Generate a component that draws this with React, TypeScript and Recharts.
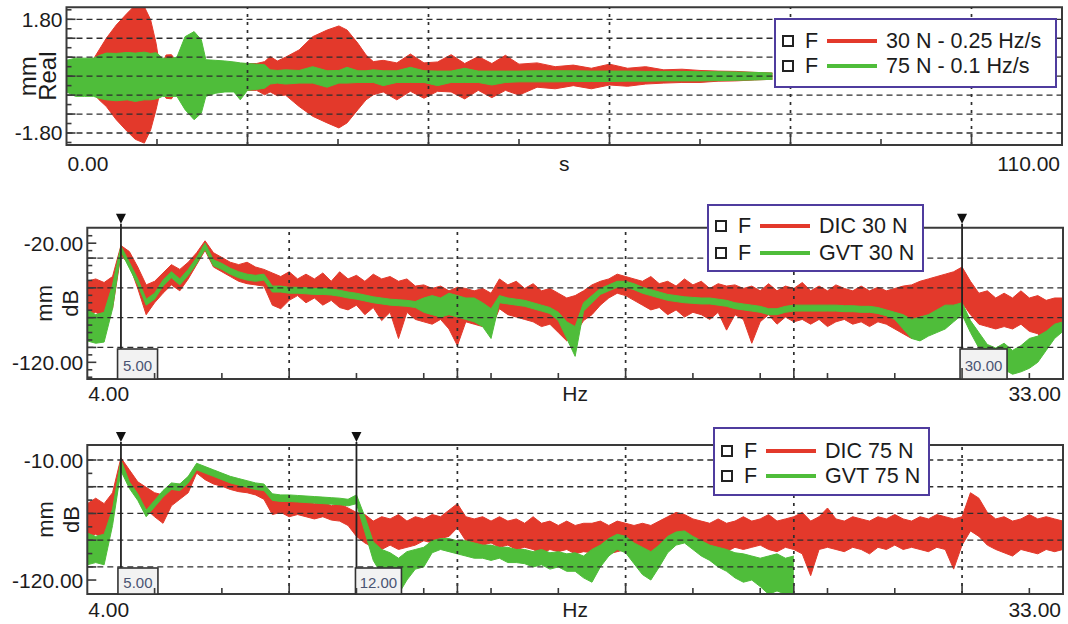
import React from "react";
import {
  ComposedChart,
  Area,
  XAxis,
  YAxis,
  ReferenceLine,
  ReferenceArea,
  Legend,
} from "recharts";

const RED = "#e3392b";
const GREEN = "#4fbd3a";
const INK = "#1c1c1c";
const FRAME = "#3a3a3a";
const BOX = "#4f3c9e";
const FONT = "'Liberation Sans', Arial, Helvetica, sans-serif";

// top panel: time histories, s -> mm (envelopes of the sweeps)
const timeS = [
  0, 1, 2, 3, 3.6, 4.4, 5.5, 6.7, 7.6, 8.6, 9.3, 9.9, 10.3, 10.6, 11, 11.6, 12.2, 13.1, 14.1, 14.9, 15.4,
  16.5, 17.5, 18.5, 19.2, 20, 21, 21.9, 22.5, 23.3, 24.2, 25.7, 27.2, 28.8, 30.1, 31, 32.2, 33.1, 33.9,
  35, 36.5, 38, 39.5, 41, 42.5, 44, 45.5, 47, 48.5, 50, 52, 54, 56, 58, 60, 62, 64, 66, 68, 70, 72, 74, 76, 78,
];
const sweep30Hi = [
  0.45, 0.48, 0.5, 0.55, 0.83, 1.2, 1.62, 1.99, 2.25, 2.2, 1.78, 1.04, 0.3, 0.4, 0.67, 0.68, 0.45, 0.45, 0.45, 0.45, 0.45,
  0.45, 0.42, 0.42, 0.4, 0.4, 0.4, 0.46, 0.62, 0.48, 0.6, 0.83, 1.25, 1.46, 1.59, 1.46, 1.04, 0.67, 0.46,
  0.5, 0.42, 0.7, 0.42, 0.45, 0.68, 0.4, 0.62, 0.4, 0.66, 0.38, 0.42, 0.3, 0.35, 0.25, 0.38, 0.25, 0.3, 0.2, 0.22, 0.18, 0.16, 0.15, 0.12, 0.1,
];
const sweep30Lo = [
  -0.45, -0.5, -0.5, -0.55, -0.75, -0.96, -1.38, -1.75, -2.0, -2.12, -1.7, -1.06, -0.54, -0.5, -0.7, -0.72, -0.45, -0.45, -0.45, -0.45, -0.45,
  -0.45, -0.45, -0.45, -0.45, -0.45, -0.45, -0.59, -0.5, -0.62, -0.6, -0.96, -1.27, -1.48, -1.64, -1.48, -1.06, -0.75, -0.59,
  -0.5, -0.75, -0.48, -0.7, -0.48, -0.5, -0.72, -0.45, -0.68, -0.45, -0.6, -0.35, -0.4, -0.3, -0.4, -0.28, -0.32, -0.25, -0.22, -0.2, -0.2, -0.16, -0.15, -0.12, -0.1,
];
const sweep75Hi = [
  0.5, 0.57, 0.57, 0.57, 0.65, 0.73, 0.72, 0.75, 0.73, 0.76, 0.72, 0.74, 0.65, 0.57, 0.57, 0.57, 0.6, 1.25, 1.41, 1.15, 0.52,
  0.5, 0.48, 0.45, 0.42, 0.4, 0.38, 0.36, 0.2, 0.18, 0.2, 0.18, 0.3, 0.17, 0.18, 0.28, 0.17, 0.17, 0.2,
  0.17, 0.17, 0.28, 0.17, 0.16, 0.16, 0.25, 0.16, 0.16, 0.16, 0.16, 0.17, 0.17, 0.17, 0.16, 0.16, 0.16, 0.15, 0.15, 0.15, 0.14, 0.14, 0.13, 0.12, 0.1,
];
const sweep75Lo = [
  -0.5, -0.64, -0.64, -0.64, -0.7, -0.75, -0.78, -0.75, -0.8, -0.75, -0.75, -0.72, -0.68, -0.64, -0.64, -0.64, -0.64, -1.06, -1.38, -1.17, -0.64,
  -0.54, -0.5, -0.5, -0.75, -0.45, -0.42, -0.38, -0.25, -0.22, -0.25, -0.22, -0.22, -0.35, -0.22, -0.22, -0.2, -0.2, -0.2,
  -0.3, -0.2, -0.2, -0.2, -0.3, -0.2, -0.2, -0.2, -0.28, -0.2, -0.18, -0.18, -0.18, -0.17, -0.17, -0.17, -0.16, -0.16, -0.15, -0.15, -0.15, -0.14, -0.13, -0.12, -0.1,
];

// frequency lines shared by both FRF panels (Hz)
const freqHz = [
  4, 4.25, 4.5, 4.75, 5, 5.25, 5.5, 5.75, 6, 6.25, 6.5, 6.75, 7, 7.25, 7.5, 7.75,
  8, 8.25, 8.5, 8.75, 9, 9.25, 9.5, 9.75, 10, 10.25, 10.5, 10.75, 11, 11.25, 11.5, 11.75,
  12, 12.25, 12.5, 12.75, 13, 13.25, 13.5, 13.75, 14, 14.25, 14.5, 14.75, 15, 15.25, 15.5, 15.75,
  16, 16.25, 16.5, 16.75, 17, 17.25, 17.5, 17.75, 18, 18.25, 18.5, 18.75, 19, 19.25, 19.5, 19.75,
  20, 20.25, 20.5, 20.75, 21, 21.25, 21.5, 21.75, 22, 22.25, 22.5, 22.75, 23, 23.25, 23.5, 23.75,
  24, 24.25, 24.5, 24.75, 25, 25.25, 25.5, 25.75, 26, 26.25, 26.5, 26.75, 27, 27.25, 27.5, 27.75,
  28, 28.25, 28.5, 28.75, 29, 29.25, 29.5, 29.75, 30, 30.25, 30.5, 30.75, 31, 31.25, 31.5, 31.75,
  32, 32.25, 32.5, 32.75, 33,
];

// middle panel: 30 N, dB
const dic30Hi = [
  -52, -50, -53, -48, -22, -27, -40, -55, -52, -45, -38, -42, -36, -28, -18, -28,
  -32, -36, -38, -36, -40, -42, -45, -48, -44, -50, -46, -50, -45, -52, -44, -50,
  -47, -52, -46, -50, -48, -52, -50, -56, -55, -58, -56, -60, -57, -58, -60, -58,
  -62, -50, -55, -52, -58, -54, -60, -58, -62, -66, -64, -60, -55, -52, -50, -46,
  -48, -50, -52, -48, -54, -52, -56, -50, -55, -52, -58, -54, -56, -55, -58, -56,
  -60, -54, -60, -56, -58, -53, -60, -56, -60, -55, -58, -60, -56, -60, -57, -60,
  -58, -56, -55, -52, -50, -48, -46, -44, -40, -52, -62, -60, -66, -62, -66, -60,
  -66, -64, -68, -66, -66,
];
const dic30Lo = [
  -80, -78, -82, -75, -30, -38, -58, -80, -70, -62, -55, -60, -50, -38, -26, -40,
  -44, -48, -52, -54, -55, -56, -72, -75, -68, -64, -70, -66, -72, -68, -74, -76,
  -72, -80, -74, -85, -78, -100, -78, -84, -86, -88, -84, -92, -106, -86, -88, -90,
  -92, -75, -80, -82, -84, -86, -90, -88, -95, -102, -96, -85, -80, -72, -66, -62,
  -64, -68, -72, -76, -74, -80, -76, -82, -78, -80, -84, -78, -93, -80, -84, -104,
  -86, -80, -88, -82, -86, -84, -88, -84, -90, -86, -84, -88, -86, -90, -86, -88,
  -92, -96, -100, -96, -92, -88, -86, -84, -70, -80, -88, -90, -92, -90, -92, -88,
  -94, -96, -104, -92, -90,
];
const gvt30Hi = [
  -76, -80, -78, -55, -22.5, -36, -50, -67, -62, -51, -44, -50, -42, -32, -20, -34,
  -37, -41, -44, -46, -47, -46, -56, -56, -57, -57, -57.5, -58, -58, -58.5, -59.5, -61,
  -62, -63.5, -65, -66, -67, -67.5, -68, -69, -66, -64, -66, -62, -64, -66, -66, -70,
  -75, -64, -66, -67, -68, -70, -72, -74, -78, -86, -90, -70, -64, -58, -55, -52,
  -52, -54, -57, -59, -61, -63, -64, -65, -65.5, -66, -66, -67, -68, -70, -71, -72,
  -73, -75, -75, -73, -72, -72, -72, -72, -72, -72, -72.5, -72.5, -73, -73, -74, -76,
  -78, -80, -84, -82, -80, -76, -72, -72, -70, -85, -95, -105, -108, -104, -110, -106,
  -100, -98, -94, -88, -86,
];
const gvt30Lo = [
  -102, -104, -103, -75, -27, -41, -55, -72, -67, -56, -49, -55, -47, -37, -25, -39,
  -42, -46, -49, -51, -52, -51, -61, -61, -62, -62, -62.5, -63, -63, -63.5, -64.5, -66,
  -67, -68.5, -70, -71, -72, -72.5, -73, -74, -78, -80, -82, -80, -82, -84, -86, -90,
  -100, -70, -71, -72, -73, -75, -77, -79, -85, -100, -115, -77, -70, -63, -60, -57,
  -57, -59, -62, -64, -66, -68, -69, -70, -70.5, -71, -71, -72, -73, -75, -76, -77,
  -78, -80, -80, -78, -77, -77, -77, -77, -77, -77, -77.5, -77.5, -78, -78, -79, -81,
  -84, -92, -100, -102, -98, -95, -92, -86, -80, -95, -108, -122, -128, -126, -130, -128,
  -125, -120, -110, -100, -94,
];

// bottom panel: 75 N, dB (GVT trace stops at 25 Hz)
const dic75Hi = [
  -50, -45, -50, -40, -8, -19, -30, -35, -40, -42, -34, -32, -26, -15, -20, -24,
  -26, -28, -30, -32, -34, -36, -44, -46, -45, -48, -46, -50, -48, -52, -50, -54,
  -58, -60, -66, -62, -64, -60, -66, -62, -64, -60, -62, -56, -50, -62, -64, -62,
  -66, -62, -66, -64, -68, -62, -68, -66, -70, -66, -70, -68, -68, -66, -70, -66,
  -68, -70, -68, -70, -66, -62, -58, -60, -64, -66, -68, -64, -68, -66, -62, -66,
  -64, -60, -66, -64, -62, -58, -66, -62, -54, -64, -66, -62, -64, -66, -62, -64,
  -60, -64, -66, -62, -64, -60, -62, -64, -62, -40, -45, -58, -64, -62, -66, -64,
  -60, -64, -62, -64, -66,
];
const dic75Lo = [
  -80, -78, -82, -62, -18, -34, -45, -55, -62, -68, -52, -46, -40, -22, -28, -32,
  -34, -37, -39, -40, -42, -46, -60, -58, -62, -60, -62, -64, -62, -65, -66, -70,
  -80, -86, -90, -92, -88, -92, -90, -88, -84, -86, -82, -80, -72, -84, -86, -88,
  -86, -90, -88, -92, -90, -92, -96, -92, -94, -92, -96, -94, -95, -92, -96, -94,
  -92, -96, -97, -100, -94, -86, -82, -84, -88, -92, -90, -92, -94, -90, -92, -90,
  -88, -92, -94, -90, -92, -96, -116, -92, -90, -92, -94, -90, -92, -96, -90, -92,
  -88, -92, -90, -92, -94, -90, -92, -110, -88, -75, -80, -88, -92, -95, -98, -92,
  -94, -96, -92, -94, -92,
];
const gvt75Hi = [
  -77, -80, -78, -55, -10, -30, -41, -56, -47, -38, -31, -32, -25, -13, -16, -19,
  -22, -25, -27, -29, -31, -32, -41, -42, -42, -42.5, -43, -43.5, -44, -44.5, -45, -46,
  -42, -62, -85, -92, -95, -100, -94, -92, -90, -84, -82, -82, -84, -84, -86, -88,
  -88, -90, -90, -92, -92, -94, -92, -95, -94, -96, -95, -98, -92, -88, -82, -78,
  -80, -86, -90, -94, -88, -80, -76, -75, -80, -84, -88, -90, -92, -95, -96, -98,
  -100, -98, -96, -100, -98,
];
const gvt75Lo = [
  -106, -104, -106, -70, -20, -36, -47, -62, -53, -44, -37, -38, -31, -19, -22, -25,
  -28, -31, -33, -35, -37, -38, -47, -48, -48, -48.5, -49, -49.5, -50, -50.5, -51, -52,
  -50, -76, -102, -115, -125, -133, -120, -110, -108, -95, -92, -94, -96, -98, -100, -100,
  -102, -100, -104, -104, -105, -108, -106, -110, -108, -112, -112, -118, -122, -108, -98, -92,
  -95, -105, -115, -120, -108, -95, -88, -86, -92, -98, -102, -108, -112, -118, -122, -120,
  -126, -133, -130, -133, -133,
];

const band = (xs: number[], lo: number[], hi: number[]) =>
  hi.map((h, i) => ({ x: xs[i], v: [lo[i], h] }));

const hzTicks = [4, 6, 8, 10, 12, 14, 15, 16, 18, 20, 22, 24, 25, 26, 28, 30, 32, 33];
const hzMajor = [10, 15, 20, 25, 30];

const XTick = (props: any) => {
  const { x, y, payload, ends, major, half } = props;
  const v = payload.value;
  const atStart = v === ends[0];
  const atEnd = v === ends[1];
  if (atStart || atEnd) {
    return (
      <text
        x={atStart ? x + 1 : x - 2}
        y={y + half}
        textAnchor={atStart ? "start" : "end"}
        dominantBaseline="central"
        fontFamily={FONT}
        fontSize={21}
        fill={INK}
      >
        {v.toFixed(2)}
      </text>
    );
  }
  const len = major.includes(v) ? 11 : 6;
  return <line x1={x} y1={y} x2={x} y2={y - len} stroke={FRAME} strokeWidth={1.6} />;
};

const YTick = (props: any) => {
  const { x, y, payload, major, labelled } = props;
  const v = payload.value;
  const lab = labelled.includes(v);
  const len = lab || major.includes(v) ? 9 : 5;
  return (
    <g>
      <line x1={x} y1={y} x2={x + len} y2={y} stroke={FRAME} strokeWidth={1.6} />
      {lab && (
        <text x={x - 4} y={y} textAnchor="end" dominantBaseline="central" fontFamily={FONT} fontSize={21} fill={INK}>
          {v.toFixed(2)}
        </text>
      )}
    </g>
  );
};

const XTitle = (props: any) => {
  const { viewBox, text } = props;
  return (
    <text
      x={viewBox.x + viewBox.width / 2}
      y={viewBox.y + viewBox.height / 2}
      textAnchor="middle"
      dominantBaseline="central"
      fontFamily={FONT}
      fontSize={21}
      fill={INK}
    >
      {text}
    </text>
  );
};

const YTitle = (props: any) => {
  const { viewBox, lines, xs, size } = props;
  const cy = viewBox.y + viewBox.height / 2;
  return (
    <g>
      {lines.map((t: string, i: number) => (
        <text
          key={t}
          x={xs[i]}
          y={cy}
          transform={`rotate(-90 ${xs[i]} ${cy})`}
          textAnchor="middle"
          dominantBaseline="central"
          fontFamily={FONT}
          fontSize={size}
          fill={INK}
        >
          {t}
        </text>
      ))}
    </g>
  );
};

const Marker = (props: any) => {
  const { viewBox, text, w, dx, h, stem } = props;
  const { x, y, height } = viewBox;
  const bottom = y + height;
  const tipY = y - stem;
  return (
    <g>
      <line x1={x} y1={tipY} x2={x} y2={y} stroke="#222" strokeWidth={1.8} />
      <path d={`M${x - 5},${tipY - 10} L${x + 5},${tipY - 10} L${x},${tipY} Z`} fill="#111" />
      <rect x={x + dx} y={bottom - h} width={w} height={h} fill="#f2f2f2" stroke="#333" strokeWidth={1.6} />
      <text
        x={x + dx + w / 2}
        y={bottom - h / 2 + 1}
        textAnchor="middle"
        dominantBaseline="central"
        fontFamily={FONT}
        fontSize={15}
        fill="#4a5472"
      >
        {text}
      </text>
    </g>
  );
};

const LegendBox = (props: any) => {
  const { payload, width, height, rows } = props;
  return (
    <div
      style={{
        position: "relative",
        width,
        height,
        boxSizing: "border-box",
        border: `2.5px solid ${BOX}`,
        background: "#fff",
        fontFamily: FONT,
        fontSize: 21.5,
        color: INK,
      }}
    >
      {(payload || []).map((it: any, i: number) => (
        <div key={it.value} style={{ position: "absolute", left: 0, top: rows[i] - 2.5 - 12, height: 24, width: "100%" }}>
          <div
            style={{
              position: "absolute",
              left: 6,
              top: 6,
              width: 12,
              height: 12,
              boxSizing: "border-box",
              border: "2px solid #222",
            }}
          />
          <span style={{ position: "absolute", left: 29, top: 0, lineHeight: "24px" }}>F</span>
          <div style={{ position: "absolute", left: 51, top: 10, width: 50, height: 4, background: it.color }} />
          <span style={{ position: "absolute", left: 110, top: 0, lineHeight: "24px", whiteSpace: "nowrap" }}>
            {it.value}
          </span>
        </div>
      ))}
    </div>
  );
};

type Series = { name: string; color: string; data: { x: number; v: number[] }[] };
type Mark = { x: number; text: string; w: number; dx: number };

type PanelProps = {
  top: number;
  height: number;
  plot: { left: number; right: number; top: number; bottom: number };
  axisH: number;
  xDomain: [number, number];
  yDomain: [number, number];
  xTicks: number[];
  xMajor: number[];
  xGrid: number[];
  yTicks: number[];
  yMajor: number[];
  yLabels: number[];
  yGrid: number[];
  xTitle: string;
  yTitle: string[];
  yTitleX: number[];
  yTitleSize: number;
  series: Series[];
  marks: Mark[];
  markH: number;
  stem: number;
  legend: { left: number; top: number; width: number; height: number; rows: number[] };
};

function Panel(p: PanelProps) {
  return (
    <div style={{ position: "absolute", left: 0, top: p.top, width: 1068, height: p.height }}>
      <ComposedChart
        width={1068}
        height={p.height}
        margin={{ top: p.plot.top, right: 1068 - p.plot.right, bottom: p.height - p.plot.bottom - p.axisH, left: 0 }}
      >
        <XAxis
          type="number"
          dataKey="x"
          domain={p.xDomain}
          allowDataOverflow
          ticks={p.xTicks}
          interval={0}
          height={p.axisH}
          tickSize={0}
          tickMargin={0}
          tickLine={false}
          axisLine={false}
          tick={<XTick ends={p.xDomain} major={p.xMajor} half={p.axisH / 2} />}
          label={<XTitle text={p.xTitle} />}
        />
        <YAxis
          type="number"
          domain={p.yDomain}
          allowDataOverflow
          ticks={p.yTicks}
          interval={0}
          width={p.plot.left}
          tickSize={0}
          tickMargin={0}
          tickLine={false}
          axisLine={false}
          tick={<YTick major={p.yMajor} labelled={p.yLabels} />}
          label={<YTitle lines={p.yTitle} xs={p.yTitleX} size={p.yTitleSize} />}
        />
        {p.yGrid.map((v) => (
          <ReferenceLine key={`h${v}`} y={v} stroke="#2e2e2e" strokeWidth={1.3} strokeDasharray="6 4" />
        ))}
        {p.xGrid.map((v) => (
          <ReferenceLine key={`v${v}`} x={v} stroke="#2e2e2e" strokeWidth={1.7} strokeDasharray="3 5" />
        ))}
        {p.series.map((s) => (
          <Area
            key={s.name}
            name={s.name}
            data={s.data}
            dataKey="v"
            type="linear"
            stroke={s.color}
            strokeWidth={1}
            fill={s.color}
            fillOpacity={1}
            dot={false}
            activeDot={false}
            isAnimationActive={false}
          />
        ))}
        <ReferenceArea
          x1={p.xDomain[0]}
          x2={p.xDomain[1]}
          y1={p.yDomain[0]}
          y2={p.yDomain[1]}
          fill="none"
          stroke={FRAME}
          strokeWidth={2}
        />
        {p.marks.map((m) => (
          <ReferenceLine
            key={`m${m.x}`}
            x={m.x}
            stroke="#222"
            strokeWidth={1.8}
            label={<Marker text={m.text} w={m.w} dx={m.dx} h={p.markH} stem={p.stem} />}
          />
        ))}
        <Legend
          layout="vertical"
          align="center"
          verticalAlign="middle"
          wrapperStyle={{ left: p.legend.left, top: p.legend.top, width: p.legend.width, height: p.legend.height }}
          content={<LegendBox width={p.legend.width} height={p.legend.height} rows={p.legend.rows} />}
        />
      </ComposedChart>
    </div>
  );
}

export default function App() {
  return (
    <div style={{ position: "absolute", left: 0, top: 0, width: 1068, height: 624, background: "#fff" }}>
      <Panel
        top={0}
        height={190}
        plot={{ left: 66.5, right: 1062, top: 7.3, bottom: 145 }}
        axisH={36}
        xDomain={[0, 110]}
        yDomain={[-2.18, 2.18]}
        xTicks={[0, 10, 20, 30, 40, 50, 60, 70, 80, 90, 100, 110]}
        xMajor={[20, 40, 60, 80, 100]}
        xGrid={[20, 40, 60, 80, 100]}
        yTicks={[-2.1, -1.8, -1.5, -1.2, -0.9, -0.6, -0.3, 0, 0.3, 0.6, 0.9, 1.2, 1.5, 1.8, 2.1]}
        yMajor={[-1.2, -0.6, 0, 0.6, 1.2]}
        yLabels={[1.8, -1.8]}
        yGrid={[-1.8, -1.2, -0.6, 0, 0.6, 1.2, 1.8]}
        xTitle="s"
        yTitle={["mm", "Real"]}
        yTitleX={[28, 48]}
        yTitleSize={24}
        series={[
          { name: "30 N - 0.25 Hz/s", color: RED, data: band(timeS, sweep30Lo, sweep30Hi) },
          { name: "75 N - 0.1 Hz/s", color: GREEN, data: band(timeS, sweep75Lo, sweep75Hi) },
        ]}
        marks={[]}
        markH={0}
        stem={0}
        legend={{ left: 774, top: 18, width: 283, height: 70, rows: [23.5, 48.5] }}
      />
      <Panel
        top={200}
        height={210}
        plot={{ left: 87.3, right: 1063, top: 27.7, bottom: 179 }}
        axisH={28}
        xDomain={[4, 33]}
        yDomain={[-134, -7]}
        xTicks={hzTicks}
        xMajor={hzMajor}
        xGrid={[10, 15, 20, 25]}
        yTicks={[
          -13.75, -20, -26.25, -32.5, -38.75, -45, -51.25, -57.5, -63.75, -70, -76.25, -82.5, -88.75, -95,
          -101.25, -107.5, -113.75, -120, -126.25, -132.5,
        ]}
        yMajor={[-32.5, -57.5, -82.5, -107.5]}
        yLabels={[-20, -120]}
        yGrid={[-32.5, -57.5, -82.5, -107.5]}
        xTitle="Hz"
        yTitle={["mm", "dB"]}
        yTitleX={[45, 71]}
        yTitleSize={22}
        series={[
          { name: "DIC 30 N", color: RED, data: band(freqHz, dic30Lo, dic30Hi) },
          { name: "GVT 30 N", color: GREEN, data: band(freqHz, gvt30Lo, gvt30Hi) },
        ]}
        marks={[
          { x: 5, text: "5.00", w: 40, dx: -3.4 },
          { x: 30, text: "30.00", w: 47, dx: -2 },
        ]}
        markH={30}
        stem={4}
        legend={{ left: 707, top: 4, width: 217, height: 68, rows: [22, 49] }}
      />
      <Panel
        top={420}
        height={204}
        plot={{ left: 87.3, right: 1063, top: 25, bottom: 174 }}
        axisH={30}
        xDomain={[4, 33]}
        yDomain={[-132.8, 3.75]}
        xTicks={hzTicks}
        xMajor={hzMajor}
        xGrid={[10, 15, 20, 25, 30]}
        yTicks={[-10, -22.25, -34.5, -46.75, -59, -71.25, -83.5, -95.75, -108, -120]}
        yMajor={[-34.5, -59, -83.5, -108]}
        yLabels={[-10, -120]}
        yGrid={[-10, -34.5, -59, -83.5, -108]}
        xTitle="Hz"
        yTitle={["mm", "dB"]}
        yTitleX={[45, 71]}
        yTitleSize={22}
        series={[
          { name: "DIC 75 N", color: RED, data: band(freqHz, dic75Lo, dic75Hi) },
          { name: "GVT 75 N", color: GREEN, data: band(freqHz, gvt75Lo, gvt75Hi) },
        ]}
        marks={[
          { x: 5, text: "5.00", w: 40, dx: -3 },
          { x: 12, text: "12.00", w: 46, dx: -1 },
        ]}
        markH={26}
        stem={3}
        legend={{ left: 713, top: 7, width: 217, height: 69, rows: [24, 49.5] }}
      />
    </div>
  );
}
